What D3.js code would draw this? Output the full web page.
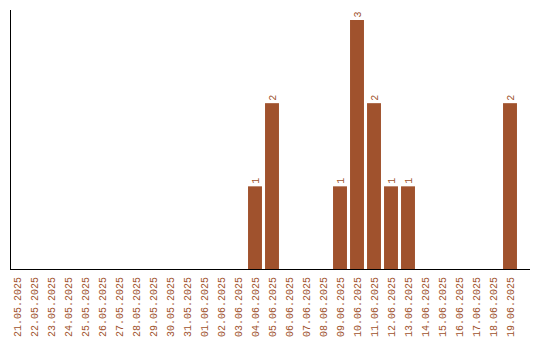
<!DOCTYPE html>
<html>
<head>
<meta charset="utf-8">
<script src="https://cdn.jsdelivr.net/npm/d3@7"></script>
<style>
  body { margin: 0; background: #fff; }
</style>
</head>
<body>
<div id="chart"></div>
<script>
const width = 540;
const height = 340;

// Data
const dates = [
  "21.05.2025", "22.05.2025", "23.05.2025", "24.05.2025", "25.05.2025",
  "26.05.2025", "27.05.2025", "28.05.2025", "29.05.2025", "30.05.2025",
  "31.05.2025", "01.06.2025", "02.06.2025", "03.06.2025", "04.06.2025",
  "05.06.2025", "06.06.2025", "07.06.2025", "08.06.2025", "09.06.2025",
  "10.06.2025", "11.06.2025", "12.06.2025", "13.06.2025", "14.06.2025",
  "15.06.2025", "16.06.2025", "17.06.2025", "18.06.2025", "19.06.2025"
];
const counts = [
  0, 0, 0, 0, 0, 0, 0, 0, 0, 0,
  0, 0, 0, 0, 1, 2, 0, 0, 0, 1,
  3, 2, 1, 1, 0, 0, 0, 0, 0, 2
];

const data = dates.map((d, i) => ({ date: d, value: counts[i] }));
const colour = "#a0522d";
const font = "'Liberation Mono', 'Courier New', monospace";

const x = d3.scaleBand()
    .domain(dates)
    .range([8.5, 518.5])
    .paddingInner(0.18)
    .paddingOuter(0.09);

const y = d3.scaleLinear()
    .domain([0, 3])
    .range([269.5, 20]);

const svg = d3.create("svg")
    .attr("width", width)
    .attr("height", height);

// Bars
svg.append("g")
  .selectAll("rect")
  .data(data.filter(d => d.value > 0))
  .join("rect")
    .attr("x", d => x(d.date))
    .attr("y", d => y(d.value))
    .attr("width", x.bandwidth())
    .attr("height", d => y(0) - y(d.value))
    .attr("fill", colour);

// Value labels
svg.append("g")
  .selectAll("text")
  .data(data.filter(d => d.value > 0))
  .join("text")
    .attr("transform", d => `translate(${x(d.date) + x.bandwidth() / 2 + 3.5},${y(d.value) - 2.5}) rotate(-90)`)
    .attr("font-family", font)
    .attr("font-size", "10px")
    .attr("fill", colour)
    .text(d => d.value);

// Axes lines
svg.append("line")
    .attr("x1", 10.5).attr("x2", 10.5)
    .attr("y1", 10).attr("y2", 270)
    .attr("stroke", "#000");
svg.append("line")
    .attr("x1", 10).attr("x2", 530)
    .attr("y1", 269.5).attr("y2", 269.5)
    .attr("stroke", "#000");

// Date labels
svg.append("g")
  .selectAll("text")
  .data(dates)
  .join("text")
    .attr("transform", d => `translate(${x(d) + x.bandwidth() / 2 + 3.5},277) rotate(-90)`)
    .attr("text-anchor", "end")
    .attr("font-family", font)
    .attr("font-size", "10px")
    .attr("fill", colour)
    .text(d => d);

document.querySelector("#chart").append(svg.node());
</script>
</body>
</html>
